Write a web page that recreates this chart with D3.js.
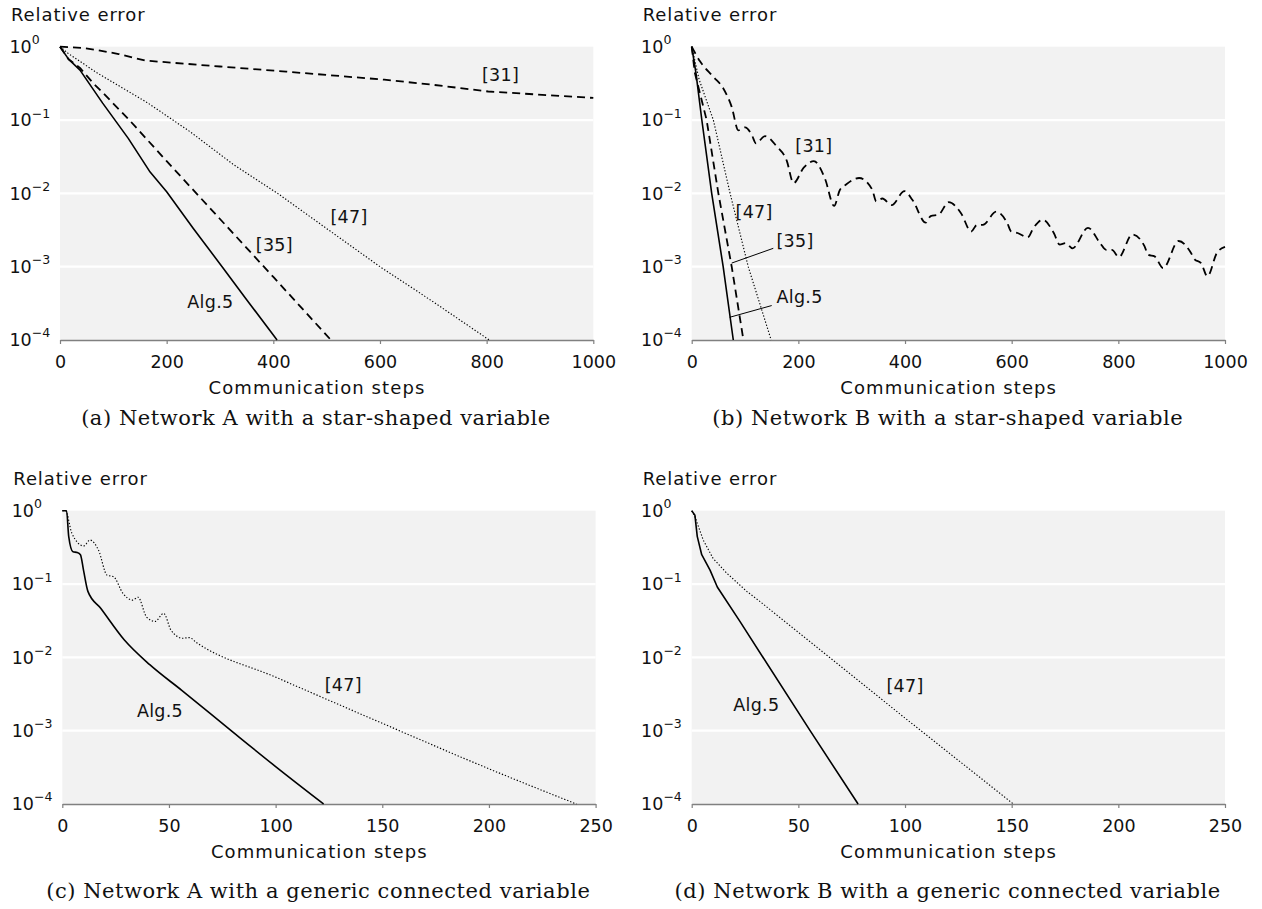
<!DOCTYPE html>
<html><head><meta charset="utf-8">
<script src="https://cdn.jsdelivr.net/npm/d3@7"></script>
<style>
body{margin:0;background:#fff;}
svg{display:block;}
.sans{font-family:"DejaVu Sans",sans-serif;fill:#111;}
.serif{font-family:"DejaVu Serif",serif;fill:#111;}
</style></head>
<body>
<script>
// ---------------- DATA ----------------
const xTicksStar = [0, 200, 400, 600, 800, 1000];
const xTicksGeneric = [0, 50, 100, 150, 200, 250];
const yTicks = [1, 0.1, 0.01, 0.001, 0.0001];
const yTickExp = ["0", "\u22121", "\u22122", "\u22123", "\u22124"];
const yLabel = "Relative error";
const xLabel = "Communication steps";
const captions = [
  "(a) Network A with a star-shaped variable",
  "(b) Network B with a star-shaped variable",
  "(c) Network A with a generic connected variable",
  "(d) Network B with a generic connected variable"
];

// Panel (a)
const aAlg5Steps = [0, 16, 37.5, 80, 128, 169, 200, 250, 305, 350, 407];
const aAlg5Err   = [1, 0.676, 0.479, 0.170, 0.0562, 0.0195, 0.0105, 0.00331, 0.000977, 0.000355, 0.0001];
const a35Steps = [0, 16, 37.5, 62.6, 78, 130, 200, 300, 400, 508];
const a35Err   = [1, 0.676, 0.513, 0.316, 0.245, 0.1, 0.0275, 0.00447, 0.000724, 0.0001];
const a47Steps = [0, 15, 70, 163, 244, 324, 408, 500, 600, 700, 805];
const a47Err   = [1, 0.813, 0.437, 0.174, 0.0692, 0.0251, 0.01, 0.00331, 0.001, 0.000331, 0.0001];
const a31Steps = [0, 40, 69, 110, 160, 300, 424, 608, 700, 803, 1000];
const a31Err   = [1, 0.966, 0.902, 0.794, 0.646, 0.537, 0.457, 0.355, 0.302, 0.245, 0.2];

// Panel (b)
const bAlg5Steps = [0, 8, 19, 37.5, 59, 78];
const bAlg5Err   = [1, 0.437, 0.1, 0.01, 0.001, 0.0001];
const b35Steps = [0, 6, 28, 50, 75, 97];
const b35Err   = [1, 0.437, 0.1, 0.01, 0.001, 0.0001];
const b47Steps = [0, 14, 40.6, 72, 106, 149];
const b47Err   = [1, 0.355, 0.1, 0.01, 0.001, 0.0001];
const b31Steps = [0, 15.6, 40.6, 59.3, 75, 87.5, 100, 112.5, 120.6, 137.4, 159.4, 178, 191, 210, 229, 250, 267, 278, 289.5, 314, 338.6, 346, 357.5, 375, 399, 414, 439, 448, 463, 482, 505, 524, 535, 546, 571, 592, 599, 611, 630, 641, 658, 679, 690, 701, 714, 743, 766, 777, 788, 801, 826, 849, 856, 868, 884, 913, 936, 943, 955, 967, 985, 1000];
const b31Err   = [1, 0.631, 0.389, 0.269, 0.151, 0.0724, 0.0794, 0.0631, 0.0479, 0.0603, 0.0437, 0.0282, 0.0138, 0.0224, 0.0275, 0.0158, 0.00676, 0.0112, 0.0132, 0.0162, 0.0112, 0.00776, 0.00851, 0.00692, 0.0107, 0.00813, 0.00398, 0.0049, 0.00513, 0.00759, 0.00537, 0.00302, 0.00372, 0.00372, 0.00562, 0.00389, 0.00302, 0.00288, 0.00251, 0.00339, 0.00437, 0.00288, 0.002, 0.00209, 0.00178, 0.00339, 0.00209, 0.0017, 0.0017, 0.00135, 0.00275, 0.00191, 0.00145, 0.00138, 0.000955, 0.00224, 0.00155, 0.00126, 0.00112, 0.000741, 0.00155, 0.00186];

// Panel (c)
const cAlg5Steps = [0, 2, 3, 5, 7, 8.5, 10, 12, 18, 29, 41, 56, 80, 100, 122.5];
const cAlg5Err   = [1, 1, 0.447, 0.275, 0.269, 0.251, 0.151, 0.0794, 0.0468, 0.0174, 0.00794, 0.00355, 0.000955, 0.000324, 0.0001];
const c47Steps = [0, 1.5, 4.5, 10, 13, 17, 21, 24, 28.5, 33, 35.5, 39.5, 43.5, 47.5, 51, 56.5, 59.5, 63, 100, 150, 200, 241];
const c47Err   = [1, 1, 0.49, 0.331, 0.398, 0.288, 0.132, 0.126, 0.0741, 0.0603, 0.0661, 0.0355, 0.0309, 0.0398, 0.0234, 0.0182, 0.0186, 0.0158, 0.00537, 0.00126, 0.000302, 0.0001];

// Panel (d)
const dAlg5Steps = [0, 1.5, 2.6, 4.7, 8.6, 12, 22.6, 55.5, 78];
const dAlg5Err   = [1, 0.871, 0.447, 0.251, 0.155, 0.0912, 0.0309, 0.001, 0.0001];
const d47Steps = [0, 1.5, 5.4, 10, 16.4, 25.8, 31.2, 53.9, 99.2, 150.8];
const d47Err   = [1, 0.832, 0.398, 0.224, 0.141, 0.0794, 0.0603, 0.0178, 0.00155, 0.0001];

// Curve labels: [text, step, error, anchor]
const aLabels = [["[31]", 826, 0.411, "middle"], ["[47]", 542, 0.00479, "middle"], ["[35]", 402, 0.002, "middle"], ["Alg.5", 282, 0.000331, "middle"]];
const bLabels = [["[31]", 229, 0.0442, "middle"], ["[47]", 117, 0.00562, "middle"], ["[35]", 159, 0.00229, "start"], ["Alg.5", 159, 0.000389, "start"]];
const bLeaders = [[75, 0.00112, 153, 0.00178], [71.2, 0.000204, 150, 0.000295]];
const cLabels = [["[47]", 131.7, 0.00417, "middle"], ["Alg.5", 56.6, 0.00186, "end"]];
const dLabels = [["[47]", 100, 0.00407, "middle"], ["Alg.5", 41.1, 0.00224, "end"]];

// ---------------- BUILD ----------------
const zip = (s, e) => s.map((x, i) => ({x, y: e[i]}));
const styles = {
  alg5: {w: 1.6, dash: null},
  dash: {w: 1.8, dash: "8,5"},
  dot:  {w: 1.15, dash: "1.3,1.9"}
};

const panels = [
  {left: 60, top: 46.7, xmax: 1000, ticks: xTicksStar, capY: 425,
   series: [
     {d: zip(a31Steps, a31Err), s: "dash"},
     {d: zip(a47Steps, a47Err), s: "dot"},
     {d: zip(a35Steps, a35Err), s: "dash"},
     {d: zip(aAlg5Steps, aAlg5Err), s: "alg5"}],
   labels: aLabels, leaders: []},
  {left: 691.7, top: 46.7, xmax: 1000, ticks: xTicksStar, capY: 425,
   series: [
     {d: zip(b31Steps, b31Err), s: "dash", smooth: true},
     {d: zip(b47Steps, b47Err), s: "dot"},
     {d: zip(b35Steps, b35Err), s: "dash"},
     {d: zip(bAlg5Steps, bAlg5Err), s: "alg5"}],
   labels: bLabels, leaders: bLeaders},
  {left: 62.3, top: 510.7, xmax: 250, ticks: xTicksGeneric, capY: 897.5,
   series: [
     {d: zip(c47Steps, c47Err), s: "dot", smooth: true},
     {d: zip(cAlg5Steps, cAlg5Err), s: "alg5", smooth: true}],
   labels: cLabels, leaders: []},
  {left: 691.7, top: 510.7, xmax: 250, ticks: xTicksGeneric, capY: 897.5,
   series: [
     {d: zip(d47Steps, d47Err), s: "dot"},
     {d: zip(dAlg5Steps, dAlg5Err), s: "alg5"}],
   labels: dLabels, leaders: []}
];

const PW = 533.3, PH = 293.3;
const svg = d3.select("body").append("svg").attr("width", 1262).attr("height", 909);

panels.forEach((p, i) => {
  const g = svg.append("g").attr("transform", `translate(${p.left},${p.top})`);
  const x = d3.scaleLinear().domain([0, p.xmax]).range([0, PW]);
  const y = d3.scaleLog().domain([1e-4, 1]).range([PH, 0]);

  g.append("rect").attr("x", 0).attr("y", 0).attr("width", PW).attr("height", PH).attr("fill", "#f2f2f2");
  g.selectAll("line.grid").data(yTicks.slice(1, 4)).join("line").attr("class", "grid")
    .attr("x1", 0).attr("x2", PW).attr("y1", d => y(d)).attr("y2", d => y(d))
    .attr("stroke", "#fff").attr("stroke-width", 2.2);

  // x axis
  const ax = g.append("g").attr("transform", `translate(0,${PH})`)
    .call(d3.axisBottom(x).tickValues(p.ticks).tickSizeInner(4).tickSizeOuter(0).tickPadding(12).tickFormat(d3.format("d")));
  ax.select(".domain").attr("stroke", "#808080").attr("stroke-width", 1.6);
  ax.selectAll(".tick line").attr("stroke", "#808080").attr("stroke-width", 1.2);
  ax.selectAll(".tick text").attr("class", "sans").attr("font-size", 17.5)
    .attr("font-family", "DejaVu Sans").attr("fill", "#111");

  // y tick labels
  const yl = g.selectAll("text.ylab").data(yTicks).join("text").attr("class", "sans ylab")
    .attr("x", -50.6).attr("y", d => y(d) + 6.3).attr("font-size", 17.5);
  yl.text("10");
  yl.append("tspan").attr("dy", -8.8).attr("font-size", 12.5).text((d, k) => yTickExp[k]);

  // axis titles
  g.append("text").attr("class", "sans").attr("x", -49).attr("y", -25.7).attr("font-size", 18)
    .attr("letter-spacing", 0.9).text(yLabel);
  g.append("text").attr("class", "sans").attr("x", 257).attr("y", PH + 54).attr("font-size", 18)
    .attr("letter-spacing", 1.1).attr("text-anchor", "middle").text(xLabel);

  // lines
  p.series.forEach(sr => {
    const st = styles[sr.s];
    const line = d3.line().x(d => x(d.x)).y(d => y(d.y)).curve(sr.smooth ? d3.curveMonotoneX : d3.curveLinear);
    g.append("path").attr("d", line(sr.d)).attr("fill", "none").attr("stroke", "#000")
      .attr("stroke-width", st.w).attr("stroke-dasharray", st.dash).attr("stroke-linejoin", "round");
  });

  // leaders
  p.leaders.forEach(l => {
    g.append("line").attr("x1", x(l[0])).attr("y1", y(l[1])).attr("x2", x(l[2])).attr("y2", y(l[3]))
      .attr("stroke", "#000").attr("stroke-width", 1);
  });

  // curve labels
  p.labels.forEach(l => {
    g.append("text").attr("class", "sans").attr("x", x(l[1])).attr("y", y(l[2]))
      .attr("dy", "0.36em").attr("font-size", 17.5).attr("letter-spacing", 0.3)
      .attr("text-anchor", l[3]).text(l[0]);
  });

  // caption
  svg.append("text").attr("class", "serif").attr("x", p.left + 256).attr("y", p.capY)
    .attr("font-size", 21).attr("letter-spacing", 0.55).attr("text-anchor", "middle").text(captions[i]);
});
</script>
</body></html>
